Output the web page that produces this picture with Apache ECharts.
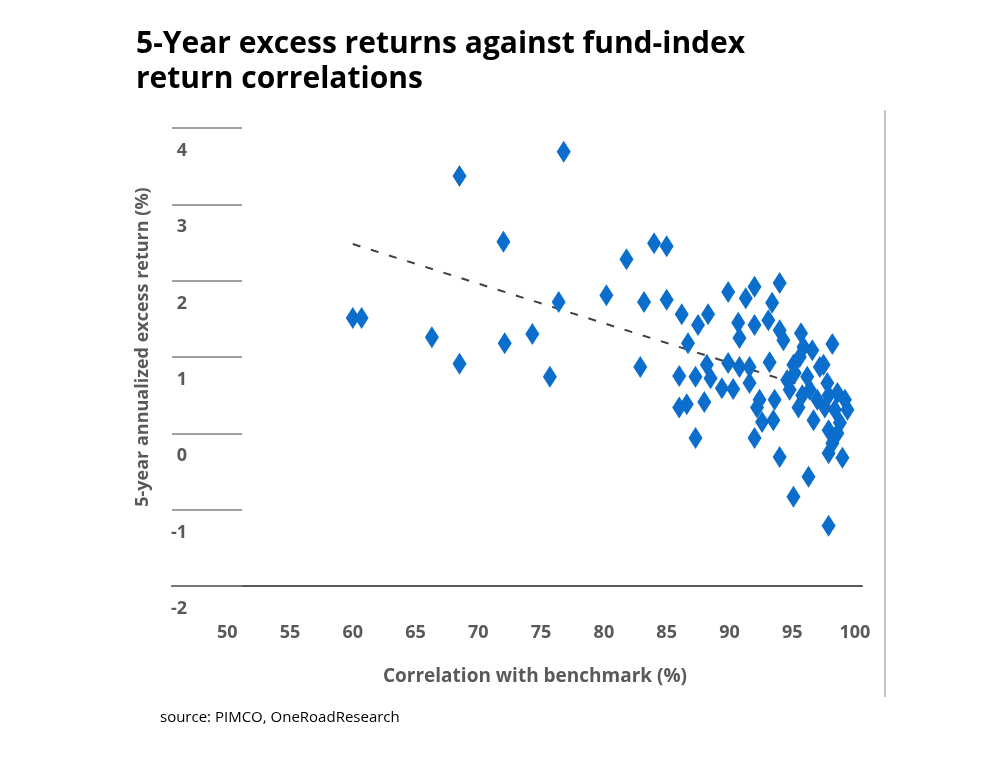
<!DOCTYPE html>
<html>
<head>
<meta charset="utf-8">
<script src="https://cdn.jsdelivr.net/npm/echarts@6/dist/echarts.min.js"></script>
<style>
html,body{margin:0;padding:0;background:#fff;}
#chart{width:1000px;height:769px;}
</style>
</head>
<body>
<div id="chart"></div>
<script>
// ---- data ----
const titleText = '5-Year excess returns against fund-index\nreturn correlations';
const xAxisName = 'Correlation with benchmark (%)';
const yAxisName = '5-year annualized excess return (%)';
const sourceText = 'source: PIMCO, OneRoadResearch';
const xTickValues = [50, 55, 60, 65, 70, 75, 80, 85, 90, 95, 100];
const yTickValues = [-2, -1, 0, 1, 2, 3, 4];

// correlation with benchmark (%)
const correlation = [
  60.0, 60.7, 66.3, 68.5, 68.5, 72.0, 72.1, 74.3, 75.7, 76.4, 76.8, 80.2, 81.8, 82.9, 83.2, 84.0, 85.0, 85.0,
  86.2, 87.5, 88.3, 86.7, 89.9, 91.3, 92.0, 90.7, 90.8, 92.0, 86.0, 87.3, 88.2, 88.5, 89.4, 90.3, 89.9, 90.8,
  91.6, 91.6, 86.0, 86.6, 88.0, 87.3, 92.0, 92.2,
  94.0, 93.4, 93.1, 94.0, 94.3, 95.7, 95.9, 96.6, 98.2, 97.5, 95.6, 95.1, 93.2,
  94.6, 95.2, 96.2, 97.2, 97.8, 98.6, 99.4, 92.4, 93.6, 93.5, 92.6, 95.5, 96.7, 97.6, 97.9, 98.8, 97.0, 94.8, 95.8,
  94.0, 96.3, 95.1, 97.9, 97.9, 99.0, 98.2, 98.6,
  96.4, 98.4, 99.2, 97.9
];
// 5-year annualized excess return (%)
const excessReturn = [
  1.51, 1.51, 1.26, 3.37, 0.91, 2.51, 1.18, 1.30, 0.74, 1.72, 3.69, 1.81, 2.28, 0.87, 1.72, 2.49, 2.45, 1.75,
  1.56, 1.42, 1.56, 1.18, 1.85, 1.77, 1.92, 1.45, 1.25, 1.42, 0.75, 0.74, 0.90, 0.72, 0.59, 0.58, 0.92, 0.87,
  0.87, 0.66, 0.34, 0.38, 0.41, -0.06, -0.06, 0.34,
  1.97, 1.71, 1.48, 1.35, 1.22, 1.31, 1.13, 1.09, 1.17, 0.90, 1.00, 0.90, 0.93,
  0.70, 0.79, 0.74, 0.87, 0.66, 0.53, 0.31, 0.44, 0.44, 0.17, 0.15, 0.34, 0.17, 0.34, 0.04, 0.14, 0.44, 0.57, 0.50,
  -0.31, -0.57, -0.83, -1.21, -0.26, -0.32, -0.13, 0.00,
  0.57, 0.31, 0.44, 0.50
];
// trend line end points
const trendX = [60.0, 97.6];
const trendY = [2.48, 0.53];

// ---- chart ----
const points = correlation.map((c, i) => [c, excessReturn[i]]);
const trend = trendX.map((x, i) => [x, trendY[i]]);
const gray = '#595959';
const fontFam = '"Open Sans", "Noto Sans", sans-serif';

const chart = echarts.init(document.getElementById('chart'), null, {renderer: 'canvas'});
chart.setOption({
  animation: false,
  backgroundColor: '#fff',
  title: {
    text: titleText,
    left: 136, top: 27, padding: 0,
    textStyle: {fontFamily: fontFam, fontSize: 30, fontWeight: 'bold', color: '#000', lineHeight: 35}
  },
  grid: {left: 172, top: 128, width: 690, height: 458},
  xAxis: {
    type: 'value', min: 45.6, max: 100.56,
    splitLine: {show: false},
    axisTick: {show: false},
    axisLine: {show: true, onZero: false, lineStyle: {color: gray, width: 2}},
    axisLabel: {
      customValues: xTickValues, margin: 38,
      fontFamily: fontFam, fontSize: 18, fontWeight: 'bold', color: gray
    }
  },
  yAxis: {
    type: 'value', min: -2, max: 4, interval: 1,
    splitLine: {show: false},
    axisLine: {show: false},
    axisTick: {show: true, inside: true, length: 70, lineStyle: {color: '#808080', width: 1.5}},
    axisLabel: {
      margin: -15, align: 'right', verticalAlign: 'top', padding: [14, 0, 0, 0],
      fontFamily: fontFam, fontSize: 18, fontWeight: 'bold', color: gray
    }
  },
  graphic: [
    {type: 'text', x: 143, y: 347, rotation: Math.PI / 2,
     style: {text: yAxisName, font: 'bold 18px ' + fontFam, fill: gray, textAlign: 'center', textVerticalAlign: 'middle'}},
    {type: 'text', x: 535, y: 677,
     style: {text: xAxisName, font: 'bold 19px ' + fontFam, fill: gray, textAlign: 'center', textVerticalAlign: 'middle'}},
    {type: 'text', x: 160, y: 718,
     style: {text: sourceText, font: '15px ' + fontFam, fill: '#000', textAlign: 'left', textVerticalAlign: 'middle'}},
    {type: 'line', shape: {x1: 885, y1: 110, x2: 885, y2: 697},
     style: {stroke: '#b0b0b0', lineWidth: 1.5}}
  ],
  series: [
    {
      type: 'line', data: trend, symbol: 'none', z: 1,
      lineStyle: {color: '#404040', width: 2, type: [8, 11]}
    },
    {
      type: 'scatter', data: points, symbol: 'diamond', symbolSize: [14, 22], z: 2,
      itemStyle: {color: '#0b6dcc', opacity: 1}
    }
  ]
});
</script>
</body>
</html>
